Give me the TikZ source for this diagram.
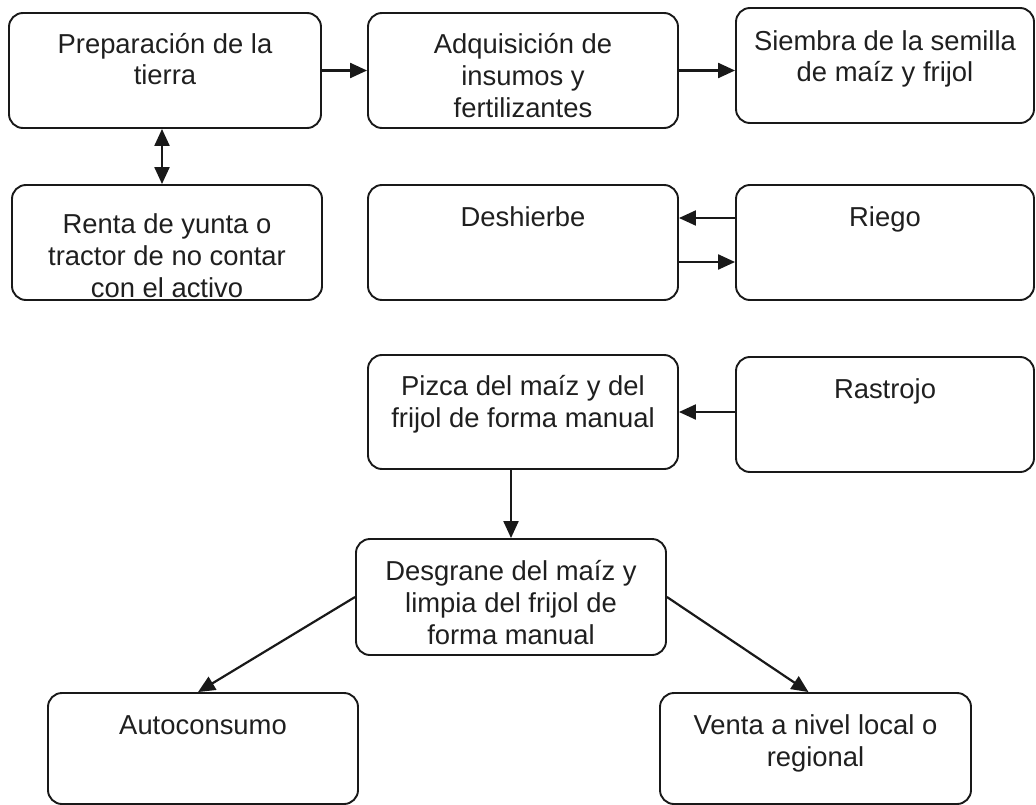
\documentclass[tikz,border=0pt]{standalone}
\usepackage{fontspec}
\setmainfont{Liberation Sans}
\usetikzlibrary{arrows.meta,calc}
\begin{document}
\begin{tikzpicture}[x=1bp,y=-1bp,
  box/.style={draw=black!90, line width=1.9bp, rounded corners=14bp, inner sep=0pt},
  txt/.style={anchor=base, align=center, inner sep=0pt, text=black!88, font=\fontsize{27.5}{32}\selectfont},
  arr/.style={line width=2.2bp, draw=black!90, -{Triangle[length=17bp,width=15bp]}},
  darr/.style={line width=2.2bp, draw=black!90, {Triangle[length=17bp,width=15bp]}-{Triangle[length=17bp,width=15bp]}}]
\useasboundingbox (0,0) rectangle (1036,805);
% boxes
\node[box, minimum width=312bp, minimum height=115bp] (b1) at (165,70.5) {};
\node[box, minimum width=310bp, minimum height=115bp] (b2) at (523,70.5) {};
\node[box, minimum width=298bp, minimum height=115bp] (b3) at (885,65.5) {};
\node[box, minimum width=310bp, minimum height=115bp] (b4) at (167,242.5) {};
\node[box, minimum width=310bp, minimum height=115bp] (b5) at (523,242.5) {};
\node[box, minimum width=298bp, minimum height=115bp] (b6) at (885,242.5) {};
\node[box, minimum width=310bp, minimum height=114bp] (b7) at (523,412) {};
\node[box, minimum width=298bp, minimum height=115bp] (b8) at (885,414.5) {};
\node[box, minimum width=310bp, minimum height=116bp] (b9) at (511,597) {};
\node[box, minimum width=310bp, minimum height=111bp] (b10) at (203,748.5) {};
\node[box, minimum width=311bp, minimum height=111bp] (b11) at (815.5,748.5) {};
% texts (anchor = baseline of last line)
\node[txt] (t1) at (165,85) {Preparación de la\\tierra};
\node[txt] (t2) at (523,117) {Adquisición de\\insumos y\\fertilizantes};
\node[txt] (t3) at (885,82) {Siembra de la semilla\\de maíz y frijol};
\node[txt] (t4) at (167,297) {Renta de yunta o\\tractor de no contar\\con el activo};
\node[txt] (t5) at (523,226) {Deshierbe};
\node[txt] (t6) at (885,226) {Riego};
\node[txt] (t7) at (523,427) {Pizca del maíz y del\\frijol de forma manual};
\node[txt] (t8) at (885,398) {Rastrojo};
\node[txt] (t9) at (511,644) {Desgrane del maíz y\\limpia del frijol de\\forma manual};
\node[txt] (t10) at (203,734) {Autoconsumo};
\node[txt] (t11) at (815.5,766) {Venta a nivel local o\\regional};
% connectors
\draw[arr] (b1.east) -- (b2.west);
\draw[arr] (b2.east) -- (b2.east -| b3.west);
\draw[darr] ($(b1.south)+(-3,0)$) -- ($(b1.south |- b4.north)+(-3,0)$);
\draw[arr] ($(b6.west)+(0,-24.5)$) -- ($(b5.east)+(0,-24.5)$);
\draw[arr] ($(b5.east)+(0,19.5)$) -- ($(b6.west)+(0,19.5)$);
\draw[arr] (b8.west |- b7.east) -- (b7.east);
\draw[arr] (b7.south -| b9.north) -- (b9.north);
\draw[arr] (b9.west) -- ($(b10.north)+(-5,0)$);
\draw[arr] (b9.east) -- ($(b11.north)+(-7,0)$);
\end{tikzpicture}
\end{document}
